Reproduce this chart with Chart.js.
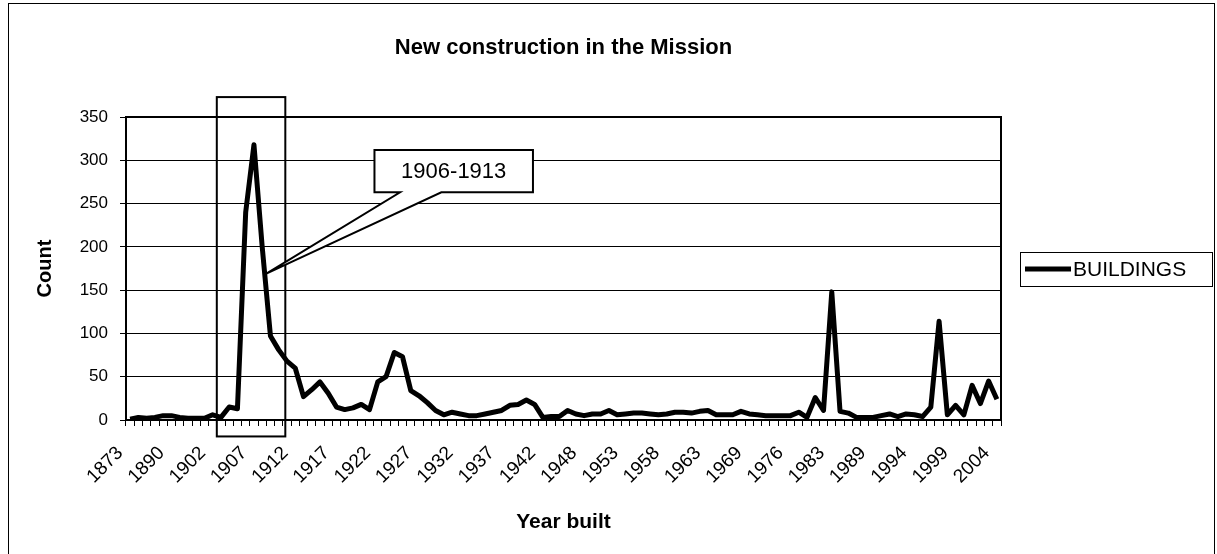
<!DOCTYPE html>
<html>
<head>
<meta charset="utf-8">
<script src="https://cdn.jsdelivr.net/npm/chart.js@4.4.1/dist/chart.umd.min.js"></script>
<style>
  html, body { margin: 0; padding: 0; background: #fff; }
  #wrap { width: 1217px; height: 554px; }
</style>
</head>
<body>
<div id="wrap"><canvas id="chart" width="1217" height="554"></canvas></div>
<script>
// New construction in the Mission - buildings per year built

const years = [
  '1873', '1879', '1882', '1885', '1888', '1890', '1893', '1895', '1898', '1900',
  '1902', '1903', '1904', '1905', '1906', '1907', '1908', '1909', '1910', '1911',
  '1912', '1913', '1914', '1915', '1916', '1917', '1918', '1919', '1920', '1921',
  '1922', '1923', '1924', '1925', '1926', '1927', '1928', '1929', '1930', '1931',
  '1932', '1933', '1934', '1935', '1936', '1937', '1938', '1939', '1940', '1941',
  '1942', '1943', '1944', '1946', '1947', '1948', '1949', '1950', '1951', '1952',
  '1953', '1954', '1955', '1956', '1957', '1958', '1959', '1960', '1961', '1962',
  '1963', '1964', '1965', '1966', '1968', '1969', '1970', '1972', '1973', '1975',
  '1976', '1977', '1979', '1980', '1982', '1983', '1984', '1985', '1986', '1988',
  '1989', '1990', '1991', '1992', '1993', '1994', '1995', '1996', '1997', '1998',
  '1999', '2000', '2001', '2002', '2003', '2004'
];

const buildings = [
  1, 3, 2, 3, 5, 5, 3, 2, 2, 2,
  6, 3, 15, 13, 240, 318, 200, 97, 81, 68,
  60, 27, 35, 44, 31, 15, 12, 14, 18, 12,
  44, 50, 78, 73, 34, 28, 20, 11, 6, 9,
  7, 5, 5, 7, 9, 11, 17, 18, 23, 18,
  3, 4, 4, 11, 7, 5, 7, 7, 11, 6,
  7, 8, 8, 7, 6, 7, 9, 9, 8, 10,
  11, 6, 6, 6, 10, 7, 6, 5, 5, 5,
  5, 9, 3, 26, 11, 148, 10, 8, 3, 3,
  3, 5, 7, 4, 7, 6, 4, 15, 114, 6,
  17, 6, 40, 19, 45, 24
];

const yMax = 350;
const yStep = 50;
const labelEvery = 5;
const seriesName = 'BUILDINGS';
const calloutText = '1906-1913';

const FONT = "'Liberation Sans', Arial, sans-serif";

// Overlay: frame, titles, legend, highlight box and callout
const overlay = {
  id: 'overlay',
  afterDraw(chart) {
    const { ctx, chartArea: a, scales: { x, y } } = chart;
    ctx.save();
    ctx.strokeStyle = '#000';
    ctx.fillStyle = '#000';

    // outer frame
    ctx.lineWidth = 1;
    ctx.strokeRect(8.5, 3.5, 1206, 560);

    // plot border
    ctx.lineWidth = 2;
    ctx.strokeRect(a.left, a.top, a.right - a.left, a.bottom - a.top);

    // titles
    const cx = (a.left + a.right) / 2;
    ctx.textAlign = 'center';
    ctx.textBaseline = 'middle';
    ctx.font = 'bold 22px ' + FONT;
    ctx.fillText('New construction in the Mission', cx, 48);
    ctx.font = 'bold 21px ' + FONT;
    ctx.fillText('Year built', cx, 522);
    ctx.font = 'bold 20px ' + FONT;
    ctx.save();
    ctx.translate(45, (a.top + a.bottom) / 2);
    ctx.rotate(-Math.PI / 2);
    ctx.fillText('Count', 0, 0);
    ctx.restore();

    // legend
    ctx.lineWidth = 1;
    ctx.strokeRect(1020.5, 252.5, 192, 34);
    ctx.lineWidth = 5;
    ctx.beginPath();
    ctx.moveTo(1025, 269);
    ctx.lineTo(1071, 269);
    ctx.stroke();
    ctx.font = '21px ' + FONT;
    ctx.textAlign = 'left';
    ctx.fillText(seriesName, 1073, 270);

    // highlight box around the 1906-1913 peak
    ctx.lineWidth = 2;
    const bx0 = x.getPixelForValue(10.5), bx1 = x.getPixelForValue(18.8);
    const by0 = y.getPixelForValue(373), by1 = y.getPixelForValue(-19);
    ctx.strokeRect(bx0, by0, bx1 - bx0, by1 - by0);

    // callout with wedge pointer
    const L = x.getPixelForValue(29.6), R = x.getPixelForValue(48.8);
    const T = y.getPixelForValue(312), B = y.getPixelForValue(263);
    const w0 = x.getPixelForValue(32.7), w1 = x.getPixelForValue(37.7);
    const tipX = x.getPixelForValue(16.5), tipY = y.getPixelForValue(169);
    ctx.beginPath();
    ctx.moveTo(L, T);
    ctx.lineTo(R, T);
    ctx.lineTo(R, B);
    ctx.lineTo(w1, B);
    ctx.lineTo(tipX, tipY);
    ctx.lineTo(w0, B);
    ctx.lineTo(L, B);
    ctx.closePath();
    ctx.fillStyle = '#fff';
    ctx.fill();
    ctx.stroke();
    ctx.fillStyle = '#000';
    ctx.font = '22px ' + FONT;
    ctx.textAlign = 'center';
    ctx.fillText(calloutText, (L + R) / 2, (T + B) / 2 + 1);

    ctx.restore();
  }
};

new Chart(document.getElementById('chart'), {
  type: 'line',
  data: {
    labels: years,
    datasets: [{
      label: seriesName,
      data: buildings,
      borderColor: '#000',
      borderWidth: 5,
      borderJoinStyle: 'round',
      pointRadius: 0,
      tension: 0,
      fill: false
    }]
  },
  options: {
    responsive: false,
    animation: false,
    devicePixelRatio: 1,
    layout: { padding: { left: 0, top: 117, right: 216, bottom: 0 } },
    plugins: {
      legend: { display: false },
      title: { display: false },
      tooltip: { enabled: false }
    },
    scales: {
      x: {
        type: 'category',
        offset: true,
        afterFit: (scale) => { scale.height = 134; },
        grid: {
          display: true,
          offset: true,
          drawOnChartArea: false,
          drawTicks: true,
          tickLength: 6,
          color: '#000',
          lineWidth: 1
        },
        border: { display: true, color: '#000', width: 2 },
        ticks: {
          autoSkip: false,
          maxRotation: 45,
          minRotation: 45,
          padding: 16,
          labelOffset: -10,
          color: '#000',
          font: { family: FONT, size: 19 },
          callback: (v, i) => (i % labelEvery === 0 ? years[i] : '')
        }
      },
      y: {
        min: 0,
        max: yMax,
        afterFit: (scale) => { scale.width = 126; },
        grid: { color: '#000', lineWidth: 1, tickLength: 6 },
        border: { display: true, color: '#000', width: 2 },
        ticks: {
          stepSize: yStep,
          padding: 12,
          color: '#000',
          font: { family: FONT, size: 17 }
        }
      }
    }
  },
  plugins: [overlay]
});
</script>
</body>
</html>
